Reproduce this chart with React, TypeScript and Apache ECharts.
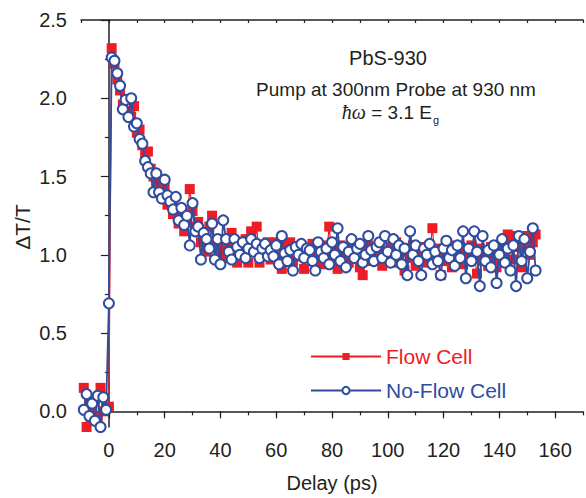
import React, { useEffect, useRef } from "react";
import * as echarts from "echarts";

// Delay (ps)
const DELAY_PS = [
  -9, -8, -7, -6, -5, -4, -3, -2, -1, 0,
  1, 2, 3, 4, 5, 6, 7, 8, 9, 10,
  11, 12, 13, 14, 15, 16, 17, 18, 19, 20,
  21, 22, 23, 24, 25, 26, 27, 28, 29, 30,
  31, 32, 33, 34, 35, 36, 37, 38, 39, 40,
  41, 42, 43, 44, 45, 46, 47, 48, 49, 50,
  51, 52, 53, 54, 55, 56, 57, 58, 59, 60,
  61, 62, 63, 64, 65, 66, 67, 68, 69, 70,
  71, 72, 73, 74, 75, 76, 77, 78, 79, 80,
  81, 82, 83, 84, 85, 86, 87, 88, 89, 90,
  91, 92, 93, 94, 95, 96, 97, 98, 99, 100,
  101, 102, 103, 104, 105, 106, 107, 108, 109, 110,
  111, 112, 113, 114, 115, 116, 117, 118, 119, 120,
  121, 122, 123, 124, 125, 126, 127, 128, 129, 130,
  131, 132, 133, 134, 135, 136, 137, 138, 139, 140,
  141, 142, 143, 144, 145, 146, 147, 148, 149, 150,
  151, 152, 153,
];

// ΔT/T, Flow Cell (red squares)
const FLOW_CELL = [
  0.15, -0.10, 0.05, 0.00, 0.08, -0.05, 0.15, 0.00, 0.02, 0.03,
  2.32, 2.22, 2.12, 2.05, 1.96, 1.99, 1.92, 1.88, 1.95, 1.78,
  1.80, 1.70, 1.64, 1.66, 1.55, 1.50, 1.46, 1.44, 1.38, 1.44,
  1.32, 1.36, 1.26, 1.30, 1.20, 1.27, 1.15, 1.22, 1.42, 1.28,
  1.18, 1.21, 1.08, 1.12, 1.02, 1.18, 1.25, 1.05, 1.10, 1.00,
  1.06, 0.98, 1.08, 1.14, 1.02, 0.95, 1.06, 0.98, 1.10, 0.95,
  1.15, 1.04, 1.18, 0.95, 1.06, 1.00, 1.08, 0.97, 1.04, 1.08,
  0.98, 0.91, 1.06, 1.02, 1.08, 0.96, 1.03, 0.99, 1.05, 0.91,
  1.04, 1.00, 1.07, 0.97, 1.02, 0.94, 1.06, 1.00, 1.18, 0.98,
  1.04, 0.91, 1.06, 1.00, 1.03, 0.95, 1.08, 0.98, 1.04, 0.92,
  0.87, 1.02, 1.06, 0.96, 1.03, 0.99, 1.06, 0.93, 1.02, 0.98,
  1.05, 0.95, 1.08, 0.97, 1.02, 0.90, 1.04, 0.98, 1.06, 0.93,
  1.03, 0.97, 1.05, 0.95, 1.02, 1.17, 0.98, 1.04, 0.87, 1.02,
  0.96, 1.06, 0.92, 1.02, 0.98, 1.05, 0.94, 1.03, 0.97, 1.06,
  0.99, 0.88, 1.04, 0.96, 1.02, 0.93, 1.05, 0.97, 0.92, 1.03,
  1.08, 0.97, 1.13, 1.09, 0.97, 1.12, 1.05, 0.92, 1.06, 1.12,
  1.00, 1.08, 1.13,
];

// ΔT/T, No-Flow Cell (blue open circles)
const NO_FLOW_CELL = [
  0.01, 0.11, -0.03, 0.05, -0.06, 0.10, -0.10, 0.09, 0.01, 0.69,
  2.26, 2.24, 2.16, 2.08, 1.93, 1.99, 1.88, 2.00, 1.82, 1.84,
  1.74, 1.71, 1.60, 1.56, 1.52, 1.40, 1.52, 1.40, 1.36, 1.48,
  1.38, 1.34, 1.29, 1.37, 1.22, 1.30, 1.19, 1.25, 1.06, 1.33,
  1.15, 1.18, 0.97, 1.14, 1.10, 1.04, 1.20, 0.97, 1.10, 0.94,
  1.22, 1.10, 1.02, 0.97, 1.10, 1.05, 1.00, 1.08, 0.98, 1.04,
  1.10, 1.02, 1.07, 0.98, 1.04, 1.07, 0.99, 1.03, 0.99, 1.06,
  0.94, 1.12, 1.01, 0.96, 1.03, 0.90, 1.05, 1.00, 1.07, 0.98,
  1.04, 1.03, 0.96, 0.90, 1.08, 1.02, 0.98, 1.04, 0.94, 1.08,
  1.00, 1.17, 0.96, 1.05, 0.92, 1.02, 1.10, 0.98, 1.04, 1.07,
  0.95, 1.00, 1.12, 1.03, 0.96, 1.05, 1.08, 0.98, 1.12, 1.02,
  0.95, 1.10, 1.00, 1.06, 0.94, 1.04, 0.87, 1.15, 1.00, 1.06,
  0.96, 0.87, 1.04, 1.00, 1.07, 0.94, 1.02, 0.96, 0.87, 1.04,
  1.09, 0.98, 1.03, 0.93, 1.06, 0.98, 1.15, 0.85, 1.04, 0.96,
  1.15, 1.02, 0.80, 1.12, 0.96, 1.03, 0.92, 1.06, 0.82, 1.00,
  1.10, 0.95, 1.04, 0.90, 1.06, 0.80, 1.12, 0.96, 1.10, 0.85,
  1.02, 1.17, 0.90,
];

const X_MAJOR_TICKS = [0, 20, 40, 60, 80, 100, 120, 140, 160];
const Y_MAJOR_TICKS = [0, 0.5, 1.0, 1.5, 2.0, 2.5];
const Y_MINOR_TICKS = [0.25, 0.75, 1.25, 1.75, 2.25];

const SERIES_NAMES = ["Flow Cell", "No-Flow Cell"];
const TITLE_LINE_1 = "PbS-930";
const TITLE_LINE_2 = "Pump at 300nm Probe at 930 nm";

const RED = "#EE1C25";
const BLUE = "#2F4C9E";
const INK = "#231F20";
const FONT = "'Liberation Sans', Arial, Helvetica, sans-serif";

export default function App() {
  const ref = useRef<HTMLDivElement>(null);

  useEffect(() => {
    document.body.style.margin = "0";
    if (!ref.current) return;
    const chart = echarts.init(ref.current, null, { renderer: "svg" });

    const flowData = DELAY_PS.map((d, i) => [d, FLOW_CELL[i]]);
    const noFlowData = DELAY_PS.map((d, i) => [d, NO_FLOW_CELL[i]]);

    const axisLine = { show: true, lineStyle: { color: INK, width: 1.5 } };

    chart.setOption({
      animation: false,
      backgroundColor: "#ffffff",
      textStyle: { fontFamily: FONT },
      grid: { left: 81, right: 0, top: 20, bottom: 70, containLabel: false },
      xAxis: [
        {
          type: "value",
          position: "bottom",
          min: -10,
          max: 170,
          interval: 10,
          axisLine,
          axisTick: { show: true, inside: false, length: 4, lineStyle: { color: INK, width: 1.2 } },
          axisLabel: {
            show: true,
            margin: 13,
            fontSize: 20,
            color: INK,
            fontFamily: FONT,
            formatter: (v: number) => (X_MAJOR_TICKS.indexOf(v) >= 0 ? String(v) : ""),
          },
          splitLine: { show: false },
          name: "Delay (ps)",
          nameLocation: "middle",
          nameGap: 46,
          nameTextStyle: { fontSize: 20, color: INK, fontFamily: FONT },
        },
        {
          type: "value",
          position: "bottom",
          min: -10,
          max: 170,
          axisLine: { show: false },
          axisTick: {
            show: true,
            inside: false,
            length: 7,
            customValues: X_MAJOR_TICKS,
            lineStyle: { color: INK, width: 1.2 },
          },
          axisLabel: { show: false },
          splitLine: { show: false },
        },
        {
          type: "value",
          position: "top",
          min: -10,
          max: 170,
          interval: 10,
          axisLine,
          axisTick: { show: true, inside: true, length: 3, lineStyle: { color: INK, width: 1.2 } },
          axisLabel: { show: false },
          splitLine: { show: false },
        },
      ],
      yAxis: [
        {
          type: "value",
          position: "left",
          min: -0.1,
          max: 2.5,
          axisLine,
          axisTick: {
            show: true,
            inside: false,
            length: 8,
            customValues: Y_MAJOR_TICKS,
            lineStyle: { color: INK, width: 1.2 },
          },
          axisLabel: {
            show: true,
            customValues: Y_MAJOR_TICKS,
            margin: 14,
            fontSize: 20,
            color: INK,
            fontFamily: FONT,
            formatter: (v: number) => v.toFixed(1),
          },
          splitLine: { show: false },
        },
        {
          type: "value",
          position: "left",
          min: -0.1,
          max: 2.5,
          axisLine: { show: false },
          axisTick: {
            show: true,
            inside: false,
            length: 4,
            customValues: Y_MINOR_TICKS,
            lineStyle: { color: INK, width: 1.2 },
          },
          axisLabel: { show: false },
          splitLine: { show: false },
        },
      ],
      legend: {
        show: true,
        orient: "vertical",
        left: 305,
        top: 341,
        itemWidth: 70,
        itemHeight: 9,
        itemGap: 13,
        data: [
          { name: SERIES_NAMES[0], textStyle: { color: RED } },
          { name: SERIES_NAMES[1], textStyle: { color: BLUE } },
        ],
        textStyle: { fontSize: 21, fontFamily: FONT },
        selectedMode: false,
      },
      graphic: [
        {
          type: "text",
          x: 388,
          y: 58,
          style: {
            text: TITLE_LINE_1,
            fontSize: 20,
            fontFamily: FONT,
            fill: INK,
            align: "center",
            verticalAlign: "middle",
          },
        },
        {
          type: "text",
          x: 396,
          y: 89,
          style: {
            text: TITLE_LINE_2,
            fontSize: 19,
            fontFamily: FONT,
            fill: INK,
            align: "center",
            verticalAlign: "middle",
          },
        },
        {
          type: "text",
          x: 432,
          y: 112,
          style: {
            text: "{i|ħω}{n| = 3.1 E}",
            fill: INK,
            align: "right",
            verticalAlign: "middle",
            rich: {
              i: { fontSize: 20, fontStyle: "italic", fontFamily: "'Liberation Serif', serif", fill: INK },
              n: { fontSize: 19, fontFamily: FONT, fill: INK },
            },
          },
        },
        {
          type: "text",
          x: 433,
          y: 120,
          style: {
            text: "g",
            fontSize: 11,
            fontFamily: FONT,
            fill: INK,
            align: "left",
            verticalAlign: "middle",
          },
        },
        {
          type: "text",
          x: 22,
          y: 227,
          rotation: Math.PI / 2,
          style: {
            text: "ΔT/T",
            fontSize: 21,
            fontFamily: FONT,
            fill: INK,
            align: "center",
            verticalAlign: "middle",
          },
        },
      ],
      series: [
        {
          name: SERIES_NAMES[0],
          type: "line",
          xAxisIndex: 0,
          yAxisIndex: 0,
          data: flowData,
          symbol: "rect",
          symbolSize: 10,
          showAllSymbol: true,
          itemStyle: { color: RED },
          lineStyle: { color: RED, width: 1.2 },
          z: 2,
        },
        {
          name: SERIES_NAMES[1],
          type: "line",
          xAxisIndex: 0,
          yAxisIndex: 0,
          data: noFlowData,
          symbol: "emptyCircle",
          symbolSize: 10,
          showAllSymbol: true,
          itemStyle: { color: BLUE, borderColor: BLUE, borderWidth: 3 },
          lineStyle: { color: BLUE, width: 1.8 },
          z: 3,
        },
      ],
    });

    return () => chart.dispose();
  }, []);

  return <div ref={ref} style={{ width: 586, height: 498 }} />;
}
